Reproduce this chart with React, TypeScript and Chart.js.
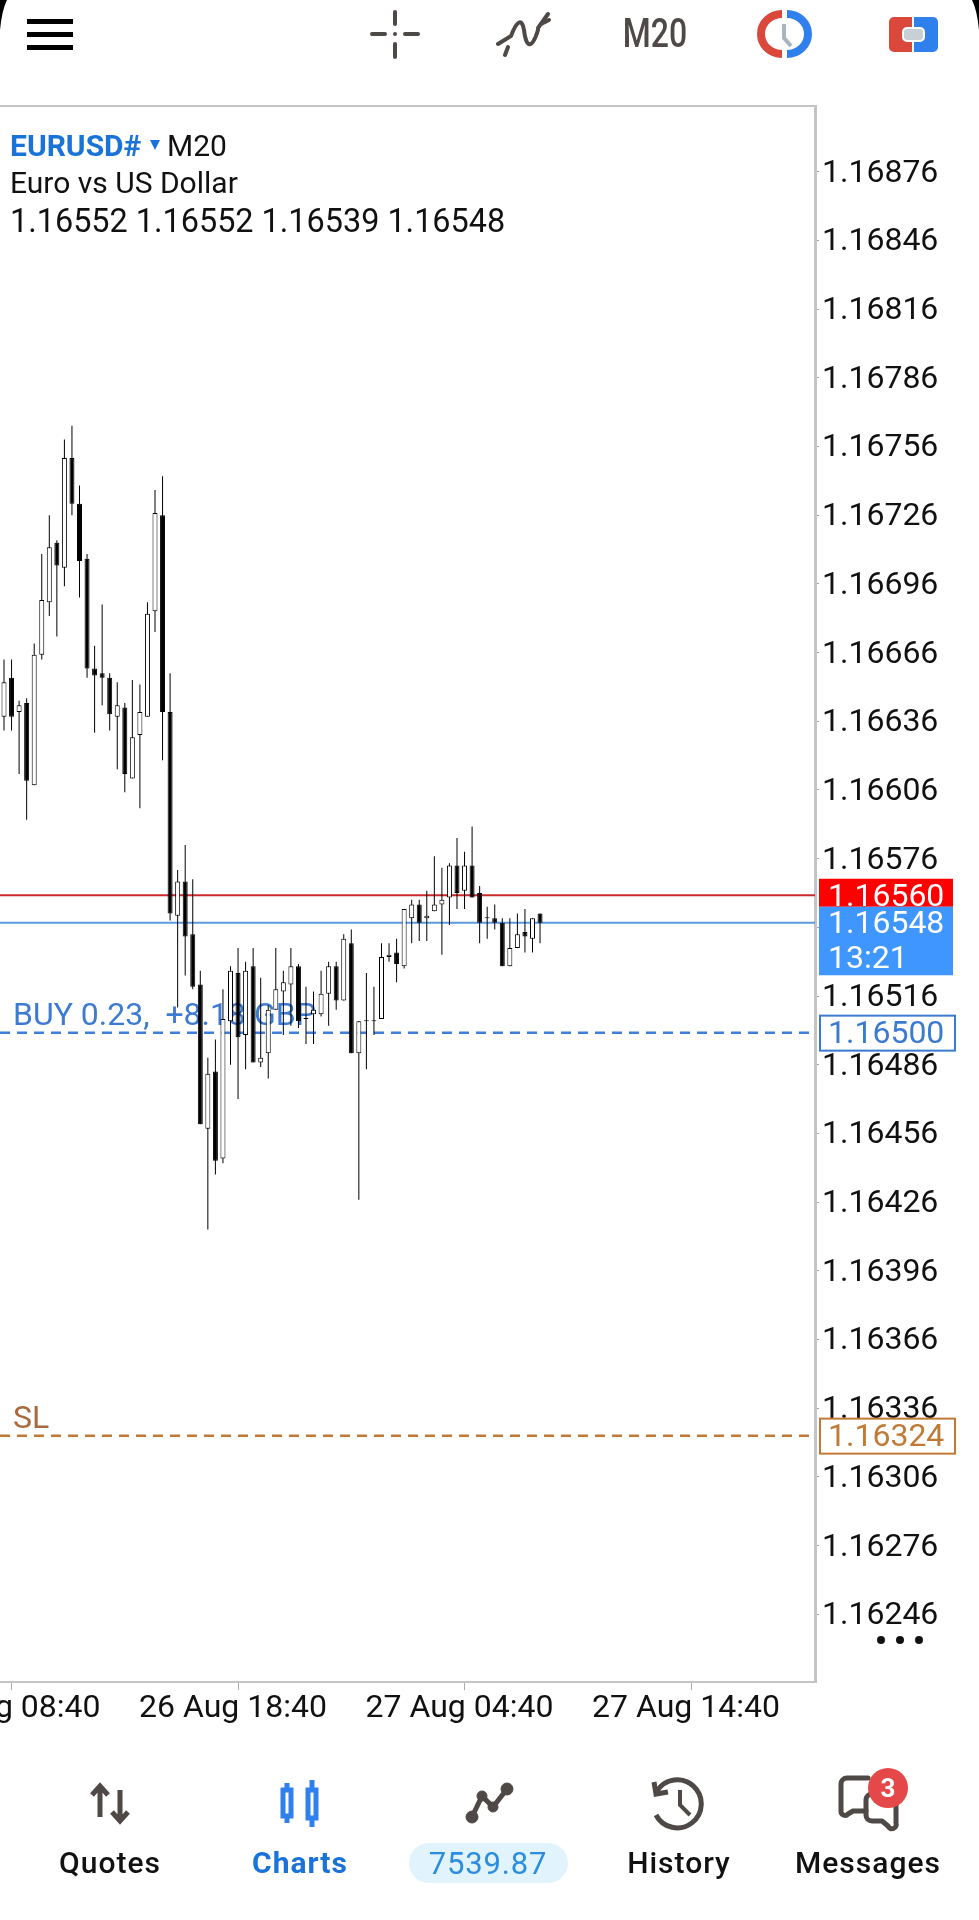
import React, { useEffect, useRef } from "react";
import { Chart, registerables } from "chart.js";

Chart.register(...registerables);

const opens = [1.16638,1.16655,1.1664,1.16644,1.16608,1.16665,1.16688,1.16714,1.16703,1.16751,1.16731,1.16707,1.16659,1.16657,1.16655,1.16638,1.16642,1.16611,1.1663,1.16638,1.16684,1.16726,1.1664,1.16551,1.16566,1.16543,1.16521,1.16458,1.16483,1.16445,1.16505,1.16526,1.16499,1.16529,1.16487,1.16491,1.1651,1.16518,1.16521,1.16529,1.16506,1.16508,1.16508,1.16517,1.16529,1.16514,1.16539,1.16491,1.16505,1.16505,1.16506,1.16533,1.16535,1.16529,1.1655,1.16556,1.1655,1.16553,1.16556,1.16559,1.16573,1.16562,1.16573,1.16561,1.1655,1.1655,1.16548,1.16529,1.16537,1.16544,1.16541,1.16552];
const highs = [1.16663,1.16663,1.16645,1.16646,1.1667,1.16709,1.16726,1.16715,1.16759,1.16765,1.16739,1.16709,1.16669,1.16687,1.16657,1.16653,1.16644,1.16654,1.16652,1.16688,1.16737,1.16743,1.16657,1.16571,1.16582,1.16567,1.16527,1.16489,1.16497,1.16519,1.16529,1.16537,1.16531,1.16537,1.16524,1.16512,1.16537,1.16527,1.16537,1.1653,1.1652,1.16518,1.16527,1.16531,1.16531,1.16543,1.16545,1.16505,1.16526,1.1652,1.16539,1.16539,1.16541,1.16554,1.16558,1.16558,1.16562,1.16577,1.16572,1.16574,1.16585,1.16579,1.1659,1.16564,1.16555,1.16556,1.1655,1.1655,1.16552,1.16554,1.1655,1.16552];
const lows = [1.16632,1.16632,1.16613,1.16593,1.16608,1.16663,1.16682,1.16673,1.16695,1.16726,1.1669,1.16655,1.16631,1.16643,1.16632,1.16615,1.16605,1.16611,1.16598,1.16638,1.16675,1.16619,1.16549,1.16511,1.16525,1.16519,1.1646,1.16414,1.16438,1.16443,1.16486,1.16471,1.16484,1.16487,1.16485,1.1648,1.1651,1.16499,1.16503,1.16502,1.16495,1.16495,1.16507,1.16503,1.1651,1.16514,1.16491,1.16427,1.16484,1.16499,1.16506,1.16531,1.16522,1.16528,1.16539,1.1654,1.1654,1.16553,1.16534,1.16547,1.16554,1.16554,1.16559,1.16539,1.16541,1.16545,1.16529,1.16529,1.16537,1.16535,1.16535,1.16539];
const closes = [1.16653,1.16638,1.16643,1.1661,1.16665,1.16689,1.16712,1.16704,1.16751,1.16731,1.16706,1.16659,1.16656,1.16655,1.16639,1.16643,1.16613,1.16629,1.1664,1.16683,1.16727,1.1664,1.16552,1.16566,1.16542,1.1652,1.1646,1.16482,1.16444,1.16506,1.16527,1.16498,1.16527,1.16487,1.16489,1.1651,1.16519,1.16522,1.16529,1.16505,1.16506,1.1651,1.16517,1.16529,1.16514,1.16541,1.16491,1.16505,1.16505,1.16505,1.16533,1.16534,1.1653,1.16554,1.16556,1.16548,1.16551,1.16556,1.16558,1.16573,1.16561,1.16573,1.16559,1.16548,1.1655,1.16548,1.16529,1.16537,1.16543,1.16542,1.1655,1.16548];

const priceTicks = [1.16876,1.16846,1.16816,1.16786,1.16756,1.16726,1.16696,1.16666,1.16636,1.16606,1.16576,1.16546,1.16516,1.16486,1.16456,1.16426,1.16396,1.16366,1.16336,1.16306,1.16276,1.16246];
const timeTickIndex = [1, 31, 61, 91];
const timeTickLabels = ["26 Aug 08:40", "26 Aug 18:40", "27 Aug 04:40", "27 Aug 14:40"];

const askPrice = 1.1656;
const bidPrice = 1.16548;
const buyPrice = 1.165;
const stopPrice = 1.16324;
const countdown = "13:21";
const buyLabel = "BUY 0.23,  +8.18 GBP";
const stopLabel = "SL";

const FONT = "Roboto, sans-serif";

const overlayPlugin = {
  id: "overlay",
  beforeDatasetsDraw(chart: any) {
    const { ctx, scales } = chart;
    const y = scales.y;
    ctx.save();
    ctx.textBaseline = "middle";
    ctx.textAlign = "left";
    ctx.font = `32px ${FONT}`;
    ctx.fillStyle = "#3d7bd3";
    ctx.fillText(buyLabel, 13, y.getPixelForValue(buyPrice) - 16);
    ctx.fillStyle = "#a86a3c";
    ctx.fillText(stopLabel, 13, y.getPixelForValue(stopPrice) - 16);
    ctx.restore();
  },
  afterDraw(chart: any) {
    const { ctx, scales } = chart;
    const y = scales.y;
    ctx.save();
    ctx.textBaseline = "middle";
    ctx.textAlign = "left";
    ctx.font = `32px ${FONT}`;
    const askY = y.getPixelForValue(askPrice);
    const bidY = y.getPixelForValue(bidPrice);
    const buyY = y.getPixelForValue(buyPrice);
    const stopY = y.getPixelForValue(stopPrice);
    ctx.fillStyle = "#ff0000";
    ctx.fillRect(819, askY - 16.5, 134, 28);
    ctx.fillStyle = "#4096ff";
    ctx.fillRect(819, askY + 11.5, 134, 68.5);
    ctx.fillStyle = "#ffffff";
    ctx.fillText(askPrice.toFixed(5), 828, askY + 2.5);
    ctx.fillText(bidPrice.toFixed(5), 828, bidY + 2);
    ctx.fillText(countdown, 828, bidY + 37);
    const box = (py: number, color: string, text: string) => {
      ctx.fillStyle = "#ffffff";
      ctx.fillRect(820, py - 17, 135, 35);
      ctx.strokeStyle = color;
      ctx.lineWidth = 2;
      ctx.strokeRect(820, py - 17, 135, 35);
      ctx.fillStyle = color;
      ctx.fillText(text, 828, py + 2.5);
    };
    box(buyY, "#3a7bd0", buyPrice.toFixed(5));
    box(stopY, "#c07a35", stopPrice.toFixed(5));
    ctx.restore();
  },
};

export default function App() {
  const ref = useRef<HTMLCanvasElement | null>(null);

  useEffect(() => {
    if (!ref.current) return;
    const xMin = -0.53;
    const xMax = 107.42;
    const hLine = (v: number, color: string, width: number, dash: number[], order = 3) => ({
      type: "line",
      data: [{ x: xMin, y: v }, { x: xMax, y: v }],
      borderColor: color,
      borderWidth: width,
      borderDash: dash,
      pointRadius: 0,
      order,
    });
    const chart = new Chart(ref.current, {
      type: "bar",
      data: {
        datasets: [
          {
            type: "bar",
            data: opens.map((o, i) => ({ x: i, y: [o, closes[i]] })),
            backgroundColor: opens.map((o, i) => (closes[i] > o ? "#ffffff" : "#000000")),
            borderColor: "#000000",
            borderWidth: 1,
            borderSkipped: false,
            inflateAmount: 0,
            barThickness: 5,
            minBarLength: 1,
            grouped: false,
            order: 1,
          },
          {
            type: "bar",
            data: highs.map((h, i) => ({ x: i, y: [lows[i], h] })),
            backgroundColor: "#000000",
            borderWidth: 0,
            inflateAmount: 0,
            barThickness: 1,
            grouped: false,
            order: 2,
          },
          hLine(askPrice, "#cc2a2a", 2, []),
          hLine(bidPrice, "#5a9be0", 2, []),
          hLine(buyPrice, "#3f7fdc", 2.5, [10, 7]),
          hLine(stopPrice, "#c07a35", 2.5, [10, 7]),
        ] as any,
      },
      plugins: [overlayPlugin as any],
      options: {
        animation: false,
        responsive: false,
        devicePixelRatio: 1,
        layout: { padding: { top: 106, left: 0, right: 0, bottom: 0 } },
        plugins: { legend: { display: false }, tooltip: { enabled: false } },
        scales: {
          x: {
            type: "linear",
            min: xMin,
            max: xMax,
            offset: false,
            afterBuildTicks: (s: any) => {
              s.ticks = timeTickIndex.map((v) => ({ value: v }));
            },
            afterFit: (s: any) => {
              s.height = 238;
              s.paddingLeft = 0;
              s.paddingRight = 0;
            },
            grid: { offset: false, drawOnChartArea: false, drawTicks: true, tickLength: 8, color: "#aaaaaa" },
            border: { display: true, color: "#c4c4c4", width: 2 },
            ticks: {
              autoSkip: false,
              maxRotation: 0,
              minRotation: 0,
              padding: 0,
              labelOffset: -5,
              color: "#111111",
              font: { family: "Roboto", size: 32 },
              callback: (v: any) => timeTickLabels[timeTickIndex.indexOf(v)],
            },
          },
          y: {
            position: "right",
            min: 1.162164,
            max: 1.169047,
            afterBuildTicks: (s: any) => {
              s.ticks = priceTicks.map((v) => ({ value: v }));
            },
            afterFit: (s: any) => {
              s.width = 164;
              s.paddingTop = 0;
              s.paddingBottom = 0;
            },
            grid: { offset: false, drawOnChartArea: false, drawTicks: true, tickLength: 4, color: "#aaaaaa" },
            border: { display: true, color: "#c4c4c4", width: 2 },
            ticks: {
              autoSkip: false,
              padding: 3,
              labelOffset: 2,
              color: "#111111",
              font: { family: "Roboto", size: 32 },
              callback: (v: any) => Number(v).toFixed(5),
            },
          },
        },
      } as any,
    });
    return () => chart.destroy();
  }, []);

  const dark = "#4e4846";
  const blue = "#2f80ed";
  return (
    <div style={{ position: "absolute", left: 0, top: 0, width: 979, height: 1920, background: "#fff", overflow: "hidden" }}>
      <canvas ref={ref} width={979} height={1920} style={{ position: "absolute", left: 0, top: 0, width: 979, height: 1920 }} />
      <svg width={979} height={1920} style={{ position: "absolute", left: 0, top: 0, fontFamily: "Roboto" }}>
        <rect x={-4} y={106} width={820} height={1576} fill="none" stroke="#c4c4c4" strokeWidth={2} />

        <path d="M0 0 H7 Q2 10 0 30 Z" fill="#000" />
        <path d="M979 0 H972 Q977 10 979 30 Z" fill="#000" />

        <rect x={27} y={19} width={46} height={5} fill="#000" />
        <rect x={27} y={32} width={46} height={5} fill="#000" />
        <rect x={27} y={45} width={46} height={5} fill="#000" />

        <g fill={dark}>
          <rect x={393} y={10} width={4} height={16} rx={2} />
          <rect x={393} y={42} width={4} height={17} rx={2} />
          <rect x={370} y={32} width={17} height={4} rx={2} />
          <rect x={403} y={32} width={17} height={4} rx={2} />
          <circle cx={395} cy={34} r={2} />
        </g>

        <g fill="none" stroke={dark} strokeWidth={4} strokeLinecap="round">
          <path d="M498 44 L511 36 C517 20 522 18 524 30 C526 48 532 50 538 30" />
          <path d="M505 55 L508 47" />
          <path d="M538 28 L548 14" />
          <path d="M541 24 L549 20" />
        </g>

        <text transform="translate(655 47) scale(1 1.25)" textAnchor="middle" fontSize={32} fontWeight={500} fill={dark}>M20</text>

        <path d="M782 14 A21 20 0 0 0 782 54" fill="none" stroke="#d9483b" strokeWidth={8} />
        <path d="M787 14 A21 20 0 0 1 787 54" fill="none" stroke={blue} strokeWidth={8} />
        <path d="M784 24 L784 38 L791 46" fill="none" stroke="#a9b4bc" strokeWidth={4} />

        <path d="M894 17 H912 V52 H894 A5 5 0 0 1 889 47 V22 A5 5 0 0 1 894 17 Z" fill="#d9483b" />
        <path d="M914 17 H933 A5 5 0 0 1 938 22 V47 A5 5 0 0 1 933 52 H914 Z" fill={blue} />
        <rect x={903} y={28} width={21} height={13} rx={4} fill="#c9d0d5" stroke="#fff" strokeWidth={2} />

        <text x={10} y={156} fontSize={30} fontWeight={700} fill="#1a73d8">EURUSD#</text>
        <path d="M150 140 H160 L155 150 Z" fill="#1a73d8" />
        <text x={167} y={156} fontSize={30} fill="#111">M20</text>
        <text x={10} y={193} fontSize={30} fill="#111">Euro vs US Dollar</text>
        <text x={10} y={232} fontSize={32.4} fill="#111">1.16552 1.16552 1.16539 1.16548</text>

        <circle cx={881} cy={1640} r={4} fill="#111" />
        <circle cx={900} cy={1640} r={4} fill="#111" />
        <circle cx={919} cy={1640} r={4} fill="#111" />

        <g fill="none" stroke={dark} strokeWidth={5}>
          <path d="M100 1817 V1787 M92 1795 L100 1786 L108 1795" />
          <path d="M120 1790 V1820 M112 1812 L120 1821 L128 1812" />
        </g>
        <text x={110} y={1873} textAnchor="middle" fontSize={30} fontWeight={500} letterSpacing={1} fill="#111">Quotes</text>

        <g fill="none" stroke={blue} strokeWidth={5}>
          <path d="M287 1783 V1790 M287 1816 V1823" />
          <rect x={283} y={1790} width={8} height={26} />
          <path d="M312 1780 V1790 M312 1818 V1827" />
          <rect x={308} y={1790} width={8} height={28} />
        </g>
        <text x={300} y={1873} textAnchor="middle" fontSize={30} fontWeight={700} letterSpacing={1} fill="#1a73d8">Charts</text>

        <rect x={409} y={1843} width={159} height={40} rx={20} fill="#e1f3fc" />
        <g fill={dark} stroke={dark}>
          <path d="M472 1817 L482 1796 L493 1807 L507 1789" fill="none" strokeWidth={5} />
          <circle cx={472} cy={1817} r={6} />
          <circle cx={482} cy={1796} r={5} />
          <circle cx={493} cy={1807} r={5} />
          <circle cx={507} cy={1789} r={6} />
        </g>
        <text x={488} y={1874} textAnchor="middle" fontSize={31} letterSpacing={0.8} fill="#2b8de0">7539.87</text>

        <g fill="none" stroke={dark} strokeWidth={5}>
          <path d="M657 1791 A24 24 0 1 1 656 1815" />
          <path d="M654 1782 L656 1794 L668 1792" />
          <path d="M680 1790 V1805 L690 1815" strokeWidth={4} />
        </g>
        <text x={679} y={1873} textAnchor="middle" fontSize={30} fontWeight={500} letterSpacing={1} fill="#111">History</text>

        <g fill="none" stroke={dark} strokeWidth={5} strokeLinejoin="round" strokeLinecap="round">
          <path d="M868 1778 H847 A6 6 0 0 0 841 1784 V1811 A4 4 0 0 0 848 1814 L853 1811 H866" />
          <path d="M872 1794 A6 6 0 0 0 866 1800 V1815 A6 6 0 0 0 872 1821 H882 L888 1826 A4 4 0 0 0 896 1823 V1800" />
        </g>
        <circle cx={888} cy={1788} r={20} fill="#e54848" />
        <text x={888} y={1797} textAnchor="middle" fontSize={26} fontWeight={700} fill="#fff">3</text>
        <text x={868} y={1873} textAnchor="middle" fontSize={30} fontWeight={500} letterSpacing={1} fill="#111">Messages</text>
      </svg>
    </div>
  );
}
